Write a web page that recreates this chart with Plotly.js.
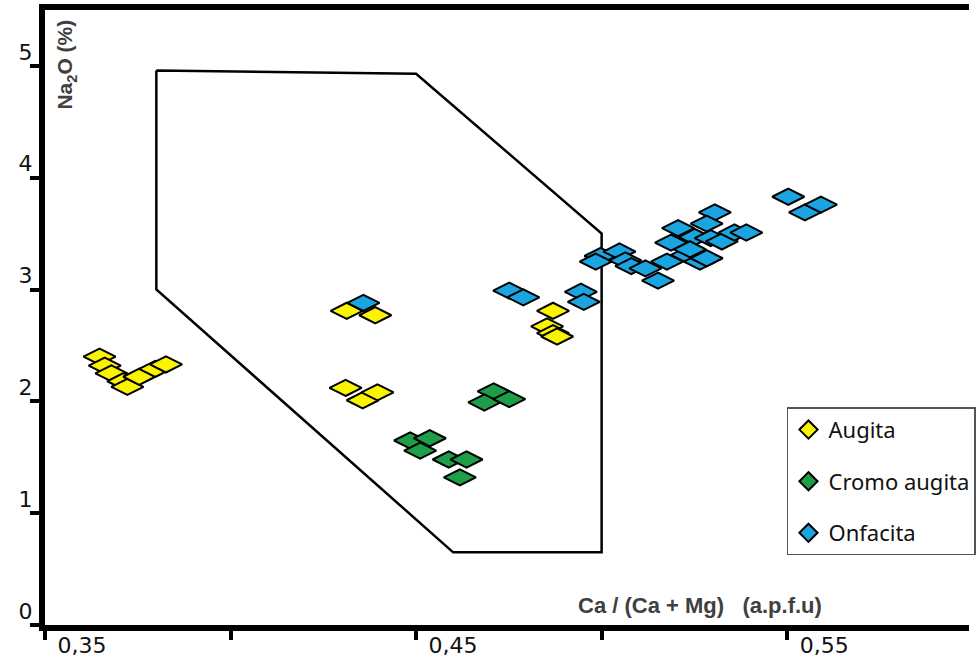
<!DOCTYPE html>
<html>
<head>
<meta charset="utf-8">
<script src="https://cdn.plot.ly/plotly-3.0.1.min.js"></script>
<style>html,body{margin:0;padding:0;background:#fff;}#chart{width:976px;height:657px;}</style>
</head>
<body>
<div id="chart"></div>
<script>
// ---- data ----
var augitaX = [0.3647, 0.3661, 0.3679, 0.3711, 0.3722, 0.3754, 0.3797, 0.3826,
               0.4313, 0.4390, 0.4310, 0.4356, 0.4396,
               0.4869, 0.4853, 0.4869, 0.4880];
var augitaY = [2.40, 2.32, 2.25, 2.18, 2.13, 2.22, 2.29, 2.33,
               2.81, 2.77, 2.12, 2.01, 2.08,
               2.81, 2.67, 2.61, 2.58];

var cromoX = [0.4709, 0.4684, 0.4751, 0.4484, 0.4537, 0.4511, 0.4588, 0.4636, 0.4618];
var cromoY = [2.09, 1.99, 2.02, 1.65, 1.67, 1.56, 1.48, 1.48, 1.32];

var onfacitaX = [0.4358, 0.4751, 0.4789, 0.4944, 0.4952,
                 0.4997, 0.4984, 0.5048, 0.5064, 0.5080, 0.5118, 0.5152, 0.5176, 0.5187,
                 0.5206, 0.5230, 0.5251, 0.5238, 0.5305, 0.5283, 0.5294, 0.5324, 0.5265,
                 0.5358, 0.5390, 0.5283, 0.5503, 0.5548, 0.5591];
var onfacitaY = [2.88, 2.99, 2.93, 2.98, 2.89,
                 3.30, 3.25, 3.34, 3.26, 3.21, 3.19, 3.08, 3.25, 3.42,
                 3.55, 3.31, 3.47, 3.36, 3.69, 3.59, 3.46, 3.43, 3.25,
                 3.51, 3.51, 3.28, 3.83, 3.69, 3.76];

var fieldX = [0.38, 0.45, 0.50, 0.50, 0.46, 0.38, 0.38];
var fieldY = [4.96, 4.93, 3.50, 0.65, 0.65, 3.00, 4.96];

var seriesNames = ["Augita", "Cromo augita", "Onfacita"];
var xTickVals = [0.35, 0.40, 0.45, 0.50, 0.55, 0.60];
var xTickText = ["0,35", "", "0,45", "", "0,55", ""];
var yTickVals = [0, 1, 2, 3, 4, 5];
var yTickText = ["0", "1", "2", "3", "4", "5"];

// ---- styles ----
var colors = ["#fbf400", "#1f9e4a", "#1ba5e0"];
function pts(x, y, c) {
  return {
    type: "scatter", mode: "markers", x: x, y: y, showlegend: false, hoverinfo: "skip",
    marker: {symbol: "diamond-wide", size: 23, color: c, line: {color: "#000", width: 2}}
  };
}
function leg(name, c, i) {
  return {
    type: "scatter", mode: "markers", x: [null], y: [null], name: name,
    legendgroup: "g" + i,
    marker: {symbol: "diamond", size: 14, color: c, line: {color: "#000", width: 2}}
  };
}

var traces = [
  {type: "scatter", mode: "lines", x: fieldX, y: fieldY, showlegend: false, hoverinfo: "skip",
   line: {color: "#000", width: 2.5}},
  pts(augitaX, augitaY, colors[0]),
  pts(cromoX, cromoY, colors[1]),
  pts(onfacitaX, onfacitaY, colors[2]),
  leg(seriesNames[0], colors[0], 0),
  leg(seriesNames[1], colors[1], 1),
  leg(seriesNames[2], colors[2], 2)
];

var layout = {
  width: 976, height: 657,
  margin: {l: 45, r: 0, t: 10, b: 32},
  paper_bgcolor: "#fff", plot_bgcolor: "#fff",
  showlegend: true,
  xaxis: {
    range: [0.35, 0.599], showgrid: false, zeroline: false,
    showline: true, linecolor: "#000", linewidth: 6, mirror: true,
    tickmode: "array", tickvals: xTickVals, ticktext: xTickText,
    ticks: "outside", ticklen: 9, tickwidth: 4, tickcolor: "#000",
    tickfont: {family: "DejaVu Sans", size: 22, color: "#111"},
    ticklabelshift: 37, ticklabelstandoff: -13
  },
  yaxis: {
    range: [0, 5.5], showgrid: false, zeroline: false,
    showline: true, linecolor: "#000", linewidth: 6, mirror: false,
    tickmode: "array", tickvals: yTickVals, ticktext: yTickText,
    ticks: "outside", ticklen: 9, tickwidth: 4, tickcolor: "#000",
    tickfont: {family: "DejaVu Sans", size: 22, color: "#111"},
    ticklabelshift: -14, ticklabelstandoff: -7
  },
  legend: {
    x: 0.803, xanchor: "left", y: 0.354, yanchor: "top",
    bgcolor: "#fff", bordercolor: "#555", borderwidth: 1.5,
    font: {family: "Noto Sans", size: 22, color: "#111"},
    tracegroupgap: 20, itemwidth: 30
  },
  annotations: [
    {xref: "paper", yref: "paper", x: 0.0226, y: 0.911, xanchor: "center", yanchor: "middle",
     showarrow: false, textangle: -90,
     text: "Na<sub>2</sub>O (%)",
     font: {family: "Liberation Sans", size: 21, color: "#404040", weight: "bold"}},
    {xref: "paper", yref: "paper", x: 0.709, y: 0.0325, xanchor: "center", yanchor: "middle",
     showarrow: false,
     text: "Ca / (Ca + Mg) &nbsp; (a.p.f.u)",
     font: {family: "Liberation Sans", size: 22, color: "#404040", weight: "bold"}}
  ]
};

Plotly.newPlot("chart", traces, layout, {displayModeBar: false, staticPlot: true});
</script>
</body>
</html>
